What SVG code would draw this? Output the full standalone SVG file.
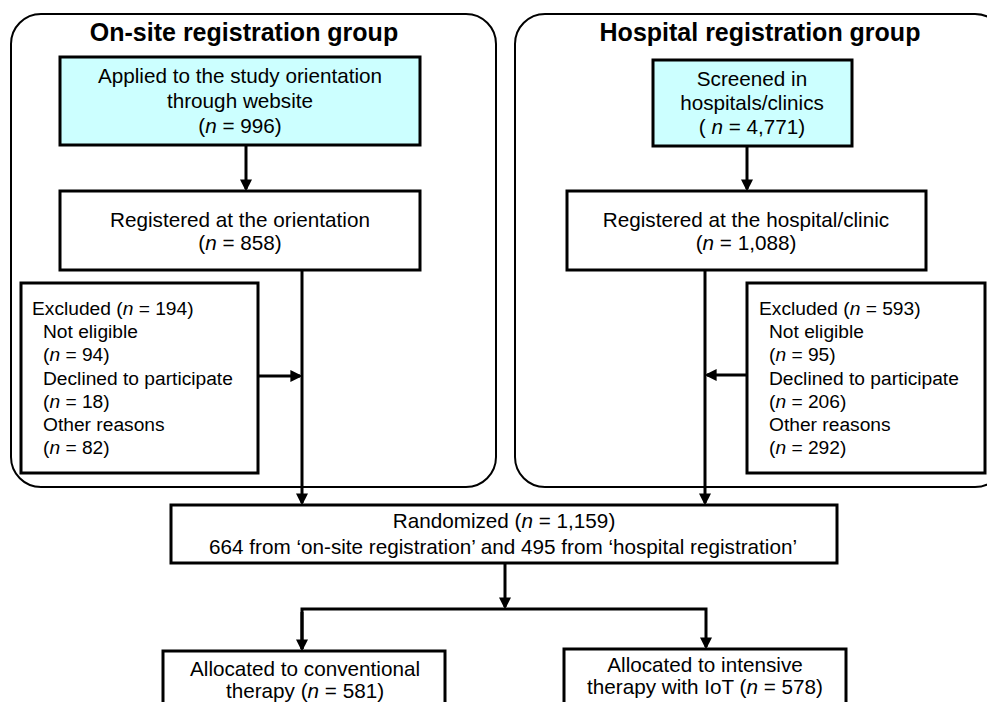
<svg xmlns="http://www.w3.org/2000/svg" width="987" height="702" viewBox="0 0 987 702">
<defs>
<marker id="ah" markerWidth="4" markerHeight="4" refX="3.2" refY="2" orient="auto" markerUnits="strokeWidth">
<path d="M0,0 L4,2 L0,4 z" fill="#000"/>
</marker>
<style>
.grp{fill:#fff;stroke:#000;stroke-width:2}
.box{fill:#fff;stroke:#000;stroke-width:3}
.cyan{fill:#ccffff;stroke:#000;stroke-width:3}
.t{font-family:"Liberation Sans",Arial,sans-serif;font-size:20.7px;fill:#000}
.s{font-size:19.2px}
.c{text-anchor:middle}
.h{font-family:"Liberation Sans",Arial,sans-serif;font-size:25px;font-weight:bold;text-anchor:middle;fill:#000}
.i{font-style:italic}
.ln{fill:none;stroke:#000;stroke-width:3}
</style>
</defs>
<rect width="987" height="702" fill="#fff"/>
<g id="group-onsite">
<rect class="grp" x="11" y="14" width="485" height="473" rx="30"/>
<text class="h" x="244" y="41">On-site registration group</text>
</g>
<g id="group-hospital">
<rect class="grp" x="515" y="14" width="490" height="473" rx="30"/>
<text class="h" x="760" y="41">Hospital registration group</text>
</g>
<g id="applied">
<rect class="cyan" x="60" y="57" width="360" height="88"/>
<text class="t c" x="240" y="83">Applied to the study orientation</text>
<text class="t c" x="240" y="108">through website</text>
<text class="t c" x="240" y="133">(<tspan class="i">n</tspan> = 996)</text>
</g>
<g id="reg-orientation">
<rect class="box" x="60" y="191" width="360" height="79"/>
<text class="t c" x="240" y="227">Registered at the orientation</text>
<text class="t c" x="240" y="250">(<tspan class="i">n</tspan> = 858)</text>
</g>
<g id="screened">
<rect class="cyan" x="653" y="60" width="199" height="86"/>
<text class="t c" x="752" y="86">Screened in</text>
<text class="t c" x="752" y="110">hospitals/clinics</text>
<text class="t c" x="752" y="134">( <tspan class="i">n</tspan> = 4,771)</text>
</g>
<g id="reg-hospital">
<rect class="box" x="567" y="191" width="359" height="79"/>
<text class="t c" x="746" y="227">Registered at the hospital/clinic</text>
<text class="t c" x="746" y="250">(<tspan class="i">n</tspan> = 1,088)</text>
</g>
<g id="excluded-onsite">
<rect class="box" x="21" y="283" width="237" height="190"/>
<text class="t s" x="32" y="315">Excluded (<tspan class="i">n</tspan> = 194)</text>
<text class="t s" x="43" y="338">Not eligible</text>
<text class="t s" x="43" y="361">(<tspan class="i">n</tspan> = 94)</text>
<text class="t s" x="43" y="385">Declined to participate</text>
<text class="t s" x="43" y="408">(<tspan class="i">n</tspan> = 18)</text>
<text class="t s" x="43" y="431">Other reasons</text>
<text class="t s" x="43" y="454">(<tspan class="i">n</tspan> = 82)</text>
</g>
<g id="excluded-hospital">
<rect class="box" x="747" y="283" width="238" height="190"/>
<text class="t s" x="759" y="315">Excluded (<tspan class="i">n</tspan> = 593)</text>
<text class="t s" x="769" y="338">Not eligible</text>
<text class="t s" x="769" y="361">(<tspan class="i">n</tspan> = 95)</text>
<text class="t s" x="769" y="385">Declined to participate</text>
<text class="t s" x="769" y="408">(<tspan class="i">n</tspan> = 206)</text>
<text class="t s" x="769" y="431">Other reasons</text>
<text class="t s" x="769" y="454">(<tspan class="i">n</tspan> = 292)</text>
</g>
<g id="randomized">
<rect class="box" x="171" y="505" width="666" height="58"/>
<text class="t c" x="504" y="528">Randomized (<tspan class="i">n</tspan> = 1,159)</text>
<text class="t c" x="503" y="554">664 from ‘on-site registration’ and 495 from ‘hospital registration’</text>
</g>
<g id="alloc-conventional">
<rect class="box" x="163" y="651" width="282" height="60"/>
<text class="t c" x="305" y="676">Allocated to conventional</text>
<text class="t c" x="305" y="698">therapy (<tspan class="i">n</tspan> = 581)</text>
</g>
<g id="alloc-intensive">
<rect class="box" x="564" y="649" width="282" height="62"/>
<text class="t c" x="705" y="672">Allocated to intensive</text>
<text class="t c" x="705" y="694">therapy with IoT  (<tspan class="i">n</tspan> = 578)</text>
</g>
<g id="connectors">
<line class="ln" x1="246" y1="145" x2="246" y2="189" marker-end="url(#ah)"/>
<line class="ln" x1="747" y1="146" x2="747" y2="189" marker-end="url(#ah)"/>
<line class="ln" x1="302" y1="270" x2="302" y2="503" marker-end="url(#ah)"/>
<line class="ln" x1="705" y1="270" x2="705" y2="503" marker-end="url(#ah)"/>
<line class="ln" x1="258" y1="376" x2="300" y2="376" marker-end="url(#ah)"/>
<line class="ln" x1="747" y1="375" x2="707" y2="375" marker-end="url(#ah)"/>
<line class="ln" x1="505" y1="563" x2="505" y2="607" marker-end="url(#ah)"/>
<polyline class="ln" points="302,649 302,609 706,609 706,647" marker-end="url(#ah)"/>
<line class="ln" x1="302" y1="612" x2="302" y2="649" marker-end="url(#ah)"/>
</g>
</svg>
